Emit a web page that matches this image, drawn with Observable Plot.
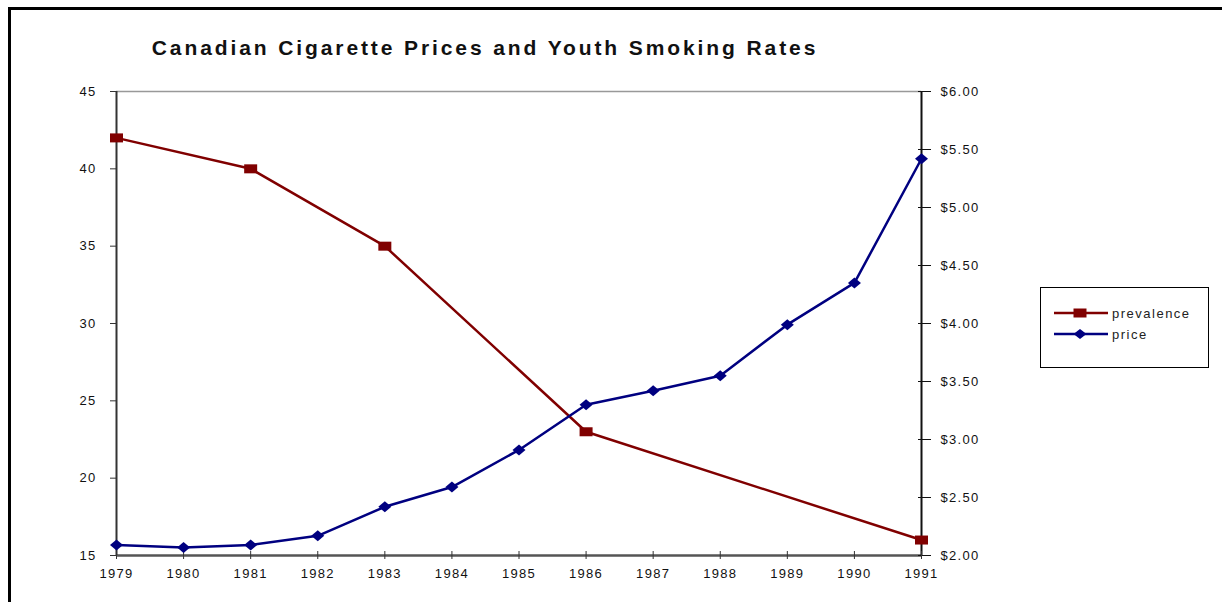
<!DOCTYPE html>
<html>
<head>
<meta charset="utf-8">
<script src="https://cdn.jsdelivr.net/npm/d3@7"></script>
<script src="https://cdn.jsdelivr.net/npm/@observablehq/plot@0.6"></script>
<style>
  html, body { margin: 0; padding: 0; background: #fff; overflow: hidden; }
  #wrap { position: relative; width: 1222px; height: 602px; font-family: "Liberation Sans", Arial, sans-serif; }
  #frame { position: absolute; left: 8px; top: 7px; width: 1400px; height: 800px;
           border-top: 3px solid #000; border-left: 3px solid #000; pointer-events: none; }
  #title { position: absolute; left: 0; top: 37px; width: 970px; text-align: center;
           font-size: 21px; line-height: 21px; font-weight: bold; letter-spacing: 2.9px; color: #111; }
  #legend { position: absolute; left: 1040px; top: 287px; width: 169px; height: 81px;
            box-sizing: border-box; border: 1px solid #000; background: #fff; }
  #legend text { font-family: "Liberation Sans", Arial, sans-serif; font-size: 13px; letter-spacing: 1.5px; fill: #222; }
  .chart text { letter-spacing: 1.3px; }
</style>
</head>
<body>
<div id="wrap">
  <div id="chart"></div>
  <div id="frame"></div>
  <div id="title">Canadian Cigarette Prices and Youth Smoking Rates</div>
  <div id="legend"></div>
</div>
<script>
// ---- data ----
const years = [1979, 1980, 1981, 1982, 1983, 1984, 1985, 1986, 1987, 1988, 1989, 1990, 1991];
const price = [2.09, 2.07, 2.09, 2.17, 2.42, 2.59, 2.91, 3.30, 3.42, 3.55, 3.99, 4.35, 5.42];
const prevalenceYears = [1979, 1981, 1983, 1986, 1991];
const prevalence = [42, 40, 35, 23, 16];
const leftTicks = [15, 20, 25, 30, 35, 40, 45];
const rightTicks = [2.0, 2.5, 3.0, 3.5, 4.0, 4.5, 5.0, 5.5, 6.0];
const seriesNames = ["prevalence", "price"];
const seriesColors = ["#800000", "#000080"];

// map price ($2–$6) onto left scale (15–45)
const toLeft = p => 15 + (p - 2) * 7.5;
const fromLeft = v => 2 + (v - 15) / 7.5;

const prevData = prevalenceYears.map((y, i) => ({year: y, value: prevalence[i]}));
const priceData = years.map((y, i) => ({year: y, price: price[i]}));

const rectSymbol = {draw(ctx) { ctx.rect(-6.5, -4.5, 13, 9); }};
const diamondSymbol = {draw(ctx) { ctx.moveTo(0, -5.5); ctx.lineTo(6.5, 0); ctx.lineTo(0, 5.5); ctx.lineTo(-6.5, 0); ctx.closePath(); }};

const chart = Plot.plot({
  width: 1222,
  height: 602,
  marginLeft: 116,
  marginRight: 301,
  marginTop: 91,
  marginBottom: 47,
  className: "chart",
  style: {background: "transparent", fontFamily: "'Liberation Sans', Arial, sans-serif", fontSize: "13px", color: "#111"},
  x: {domain: [1979, 1991], label: null},
  y: {domain: [15, 45], label: null},
  marks: [
    Plot.ruleY([45], {stroke: "#999", strokeWidth: 1.5}),
    Plot.ruleY([15], {stroke: "#555", strokeWidth: 2.5}),
    Plot.ruleX([1979], {stroke: "#333", strokeWidth: 2}),
    Plot.ruleX([1991], {stroke: "#111", strokeWidth: 2}),
    Plot.axisY(leftTicks, {anchor: "left", tickSize: 6, tickPadding: 14, label: null, stroke: "#333", fill: "#111"}),
    Plot.axisY(rightTicks.map(toLeft), {anchor: "right", tickSize: 13, dx: -4, tickPadding: 10, label: null,
      tickFormat: v => "$" + fromLeft(v).toFixed(2), stroke: "#111", fill: "#111"}),
    Plot.axisX(years, {anchor: "bottom", tickSize: 8, dy: -4, tickPadding: 9, label: null,
      tickFormat: d => String(d), stroke: "#333", fill: "#111"}),
    Plot.line(prevData, {x: "year", y: "value", stroke: seriesColors[0], strokeWidth: 2.5}),
    Plot.line(priceData, {x: "year", y: d => toLeft(d.price), stroke: seriesColors[1], strokeWidth: 2.5}),
    Plot.dot(prevData, {x: "year", y: "value", symbol: rectSymbol, fill: seriesColors[0], r: 5}),
    Plot.dot(priceData, {x: "year", y: d => toLeft(d.price), symbol: diamondSymbol, fill: seriesColors[1], r: 5})
  ]
});
document.getElementById("chart").appendChild(chart);

// ---- legend ----
const leg = d3.select("#legend").append("svg").attr("width", 167).attr("height", 79)
  .style("position", "absolute").style("left", "0").style("top", "0");
const rows = leg.selectAll("g").data(seriesNames).join("g")
  .attr("transform", (d, i) => `translate(0, ${25 + i * 21})`);
rows.append("line").attr("x1", 13).attr("x2", 67).attr("y1", 0).attr("y2", 0)
  .attr("stroke", (d, i) => seriesColors[i]).attr("stroke-width", 2.5);
rows.append("path")
  .attr("transform", "translate(39,0)")
  .attr("d", (d, i) => i === 0 ? "M-6.5,-4.5h13v9h-13z" : "M0,-5L6.5,0L0,5L-6.5,0Z")
  .attr("fill", (d, i) => seriesColors[i]);
rows.append("text").attr("x", 71).attr("y", 0).attr("dy", "0.35em").text(d => d);
</script>
</body>
</html>
